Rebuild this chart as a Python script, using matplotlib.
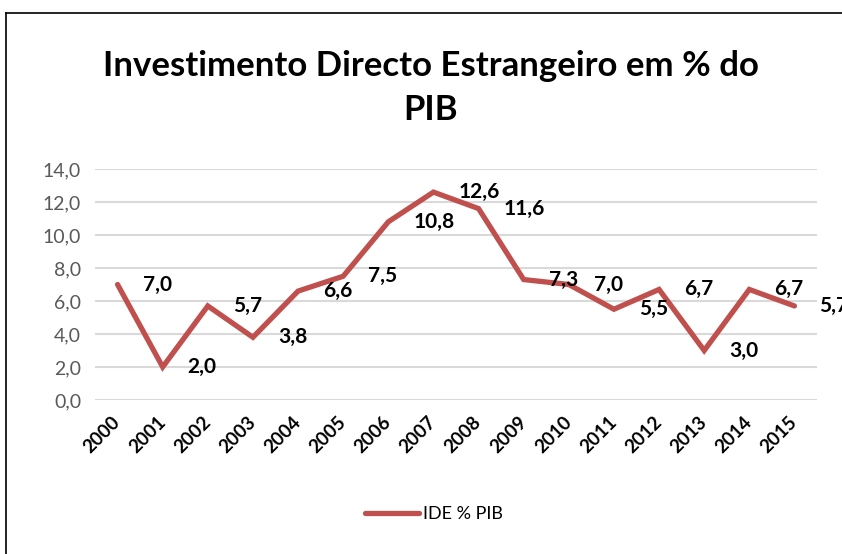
import matplotlib
matplotlib.use('Agg')
import matplotlib.pyplot as plt
from matplotlib.lines import Line2D

plt.rcParams['font.family'] = ['Lato', 'DejaVu Sans']

YEARS = [str(y) for y in range(2000, 2016)]
IDE_PIB = [7.0, 2.0, 5.7, 3.8, 6.6, 7.5, 10.8, 12.6, 11.6, 7.3, 7.0, 5.5, 6.7, 3.0, 6.7, 5.7]
Y_TICKS = [0, 2, 4, 6, 8, 10, 12, 14]

LINE_COLOR = "#C0504D"

fig = plt.figure(figsize=(8.42, 5.54), dpi=100)
W, H = 842, 554

# axes placed in pixel terms
ax = fig.add_axes([95 / W, 1 - 400 / H, (817 - 95) / W, (400 - 169) / H])

x = list(range(len(YEARS)))
ax.plot(x, IDE_PIB, color=LINE_COLOR, lw=3.8, solid_capstyle='round',
        solid_joinstyle='miter', label="IDE % PIB", zorder=3)

for xi, v in zip(x, IDE_PIB):
    ax.annotate(f"{v:.1f}".replace(".", ","), (xi, v), xytext=(18, 0),
                textcoords='offset points', ha='left', va='center',
                fontsize=15, fontweight='bold', color='black',
                annotation_clip=False)

ax.set_xlim(-0.5, len(YEARS) - 0.5)
ax.set_ylim(0, 14)
ax.set_yticks(Y_TICKS)
ax.set_yticklabels([f"{t:.1f}".replace(".", ",") for t in Y_TICKS],
                   fontsize=14, color="#595959")
ax.set_xticks(x)
ax.set_xticklabels(YEARS, rotation=45, ha='right', va='center',
                   rotation_mode='anchor', fontsize=13.5, fontweight='bold')
ax.tick_params(axis='both', length=0)
ax.tick_params(axis='x', pad=14)
ax.tick_params(axis='y', pad=10)
ax.grid(axis='y', color="#D9D9D9", lw=1.5)
ax.set_axisbelow(True)
for s in ax.spines.values():
    s.set_visible(False)

fig.text(431 / W, 1 - 88 / H, "Investimento Directo Estrangeiro em % do\nPIB",
         ha='center', va='center', fontsize=25, fontweight='bold',
         linespacing=1.45)

fig.legend(handles=[Line2D([0], [0], color=LINE_COLOR, lw=3.8,
                           solid_capstyle='round')],
           labels=["IDE % PIB"], loc='center',
           bbox_to_anchor=(434 / W, 1 - 514 / H), frameon=False,
           fontsize=13, handlelength=3.0, handletextpad=0.2)

# outer chart frame (left and top edges visible)
fig.add_artist(Line2D([6 / W, 6 / W], [0, 1 - 13 / H], color='black', lw=1.2,
                      transform=fig.transFigure))
fig.add_artist(Line2D([6 / W, 1], [1 - 13 / H, 1 - 13 / H], color='black',
                      lw=1.2, transform=fig.transFigure))

fig.savefig("out.png", dpi=100)
